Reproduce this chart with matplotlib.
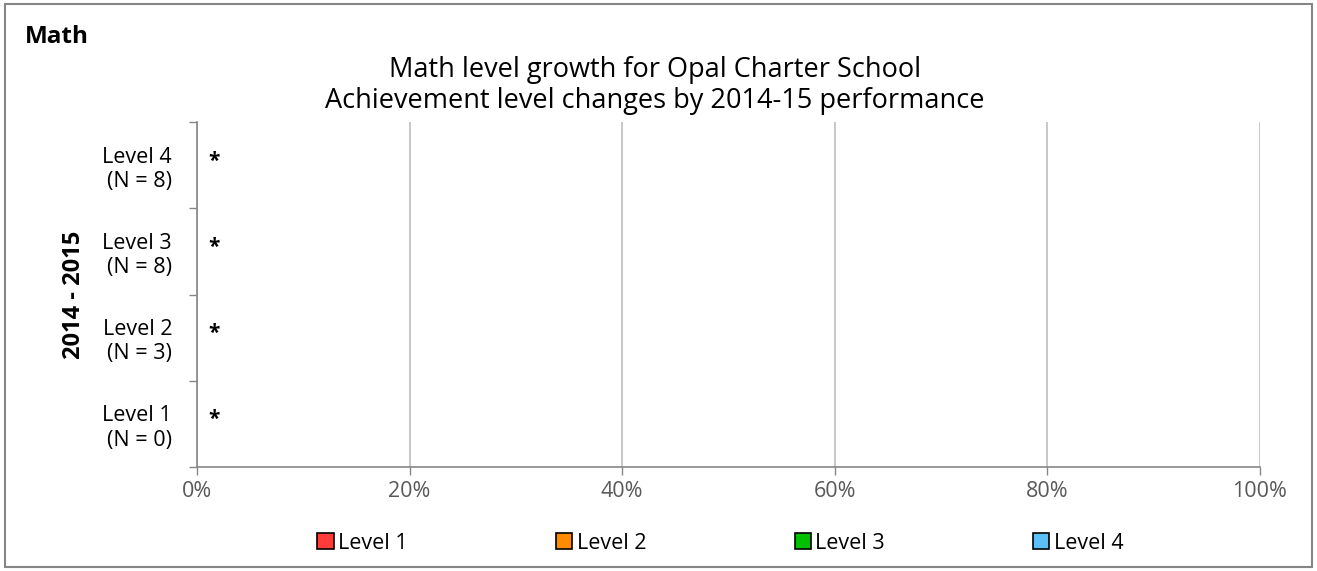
import matplotlib
matplotlib.use("Agg")
import matplotlib.pyplot as plt
from matplotlib.patches import Rectangle
import numpy as np

plt.rcParams['font.family'] = ['Open Sans', 'DejaVu Sans']

categories = ['Level 1', 'Level 2', 'Level 3', 'Level 4']
counts = [0, 3, 8, 8]
series_names = ['Level 1', 'Level 2', 'Level 3', 'Level 4']
series_values = {
    'Level 1': [0, 0, 0, 0],
    'Level 2': [0, 0, 0, 0],
    'Level 3': [0, 0, 0, 0],
    'Level 4': [0, 0, 0, 0],
}
colors = ['#ff3b3b', '#ff8c00', '#00c000', '#5bc0f8']
annotations = ['*', '*', '*', '*']
xticks = [0, 20, 40, 60, 80, 100]

fig = plt.figure(figsize=(13.17, 5.71), dpi=100)
ax = fig.add_axes([0.1496, 0.1821, 0.8071, 0.6042])

y = np.arange(len(categories))
left = np.zeros(len(categories))
for name, col in zip(series_names, colors):
    vals = np.array(series_values[name], dtype=float)
    ax.barh(y, vals, left=left, height=0.5, color=col, edgecolor='none',
            linewidth=0, label=name, zorder=3)
    left += vals

for yi, txt, l in zip(y, annotations, left):
    ax.annotate(txt, xy=(l, yi), xytext=(12, 3), textcoords='offset points',
                ha='center', va='center', fontsize=15, fontweight='bold', zorder=4)

ax.set_xlim(0, 100)
ax.set_ylim(-0.5, len(categories) - 0.5)
ax.set_xticks(xticks)
ax.set_xticklabels([f'{v}%' for v in xticks], fontsize=15.5, color='#595959')
ax.set_yticks(y)
ax.set_yticklabels([f'{c}\n(N = {n})' for c, n in zip(categories, counts)],
                   fontsize=15.5, color='black', linespacing=1.2,
                   multialignment='right')
ax.tick_params(axis='y', length=0, pad=18)
ax.set_yticks(np.arange(-0.5, len(categories)), minor=True)
ax.tick_params(axis='y', which='minor', length=6, color='#868686', width=1)
ax.tick_params(axis='x', length=6, color='#868686', width=1, direction='out', pad=4)

ax.grid(axis='x', color='#bfbfbf', linewidth=1.2, zorder=0)
ax.set_axisbelow(True)
for s in ['top', 'right']:
    ax.spines[s].set_visible(False)
ax.spines['left'].set_color('#868686')
ax.spines['left'].set_linewidth(1.2)
ax.spines['bottom'].set_color('#868686')
ax.spines['bottom'].set_linewidth(1.2)

ax.set_ylabel('2014 - 2015', fontsize=17, fontweight='bold', labelpad=12)

fig.text(0.4975, 0.877, 'Math level growth for Opal Charter School',
         ha='center', va='center', fontsize=19.5)
fig.text(0.4975, 0.823, 'Achievement level changes by 2014-15 performance',
         ha='center', va='center', fontsize=19.5)
fig.text(0.019, 0.935, 'Math', ha='left', va='center', fontsize=17.5, fontweight='bold')

handles = [Rectangle((0, 0), 1, 1, facecolor=c, edgecolor='black', linewidth=1.2)
           for c in colors]
fig.legend(handles, series_names, loc='center', bbox_to_anchor=(0.547, 0.049),
           ncol=4, frameon=False, fontsize=15.5, handlelength=0.75, handleheight=0.75,
           handletextpad=0.2, columnspacing=6.9)

fig.patches.append(Rectangle((0.004, 0.007), 0.992, 0.986, transform=fig.transFigure,
                             fill=False, edgecolor='#868686', linewidth=1.5))

fig.savefig('out.png', dpi=100)
